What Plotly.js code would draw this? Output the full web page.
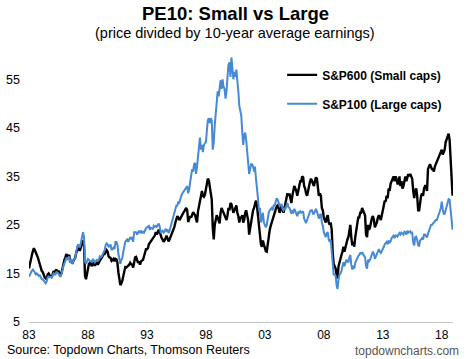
<!DOCTYPE html>
<html>
<head>
<meta charset="utf-8">
<script src="https://cdn.plot.ly/plotly-3.0.1.min.js"></script>
<style>
html,body{margin:0;padding:0;background:#fff;}
#chart{width:470px;height:359px;}
</style>
</head>
<body>
<div id="chart"></div>
<script>
// Monthly values, Jan 1983 .. Dec 2018
const startYear = 1983;
const seriesNames = ["S&P600 (Small caps)", "S&P100 (Large caps)"];
const xTickLabels = ["83","88","93","98","03","08","13","18"];

const smallCaps = [
16.0,17.2,18.0,18.8,19.6,20.2,19.8,19.0,18.8,18.3,17.5,17.0,
16.2,15.5,15.3,14.6,14.2,14.0,13.8,14.8,15.0,14.6,14.5,14.3,
14.8,15.5,15.3,15.6,15.8,15.2,15.6,15.0,14.6,15.0,16.2,17.0,
17.8,18.3,19.0,18.6,18.5,18.8,17.2,17.8,17.0,17.5,18.0,18.2,
19.2,20.0,20.5,19.8,19.8,20.5,21.0,21.8,20.8,14.5,13.8,15.0,
16.5,17.0,17.2,16.8,16.5,17.3,17.0,16.6,17.0,17.2,16.8,17.2,
17.8,18.0,18.2,18.6,19.0,19.0,19.6,19.8,19.5,18.5,18.3,18.2,
17.6,17.8,18.0,17.5,18.0,17.9,17.2,15.2,13.8,12.6,13.0,13.5,
14.5,15.8,16.3,16.2,16.5,16.6,16.8,17.2,16.9,16.8,16.2,17.3,
18.3,18.4,17.6,17.2,17.5,16.8,17.5,17.6,17.8,18.5,19.6,20.0,
20.0,20.2,21.0,21.3,21.5,21.8,22.3,22.5,22.8,23.5,23.0,23.5,
24.0,23.5,22.8,22.3,22.0,21.5,21.8,22.5,22.8,22.2,21.6,22.0,
22.5,23.0,23.5,24.0,24.6,25.5,26.4,26.8,26.5,26.0,26.3,26.8,
27.0,27.5,27.8,28.2,28.5,28.0,25.6,26.2,26.8,26.5,27.3,27.6,
27.3,27.0,26.2,25.5,27.8,29.0,30.5,31.0,32.0,31.0,30.8,31.2,
32.5,33.8,34.5,34.2,32.6,31.5,30.2,24.5,22.0,25.0,26.0,27.0,
26.5,26.0,25.3,27.5,28.5,28.0,27.5,26.8,26.5,26.0,27.0,28.5,
28.0,29.5,29.3,28.2,27.5,28.0,28.8,29.0,27.5,26.8,25.5,26.5,
26.5,27.0,25.5,26.0,27.5,28.0,27.0,26.0,23.0,24.5,25.5,27.0,
28.0,28.5,29.5,30.0,29.0,27.0,24.0,22.5,21.0,20.5,21.8,21.0,
20.0,19.6,19.5,21.5,23.0,24.0,24.8,25.5,25.8,27.0,27.5,28.0,
28.8,29.0,28.5,27.5,28.0,29.0,28.0,27.5,28.5,29.5,30.8,31.5,
31.0,31.5,30.5,29.5,31.0,32.0,33.0,32.5,32.0,31.0,32.5,33.0,
34.0,34.0,35.0,34.8,33.0,32.5,31.5,31.0,32.0,33.5,34.0,34.5,
34.0,33.5,33.0,34.0,34.8,34.5,32.5,31.0,31.5,31.0,28.5,28.0,
26.5,26.0,25.5,26.5,27.0,25.5,25.0,25.5,24.0,19.5,17.0,16.5,
16.0,14.5,14.0,16.5,17.5,18.0,18.8,19.5,20.5,19.5,20.5,21.5,
22.0,22.5,24.0,25.0,22.5,20.8,21.5,20.5,22.5,23.8,25.0,26.5,
26.5,27.5,27.5,28.5,28.0,27.5,27.0,23.0,22.5,25.0,24.0,24.5,
26.0,26.5,26.8,26.0,24.5,25.0,25.5,26.5,27.0,26.5,26.0,27.0,
28.5,29.0,30.0,29.8,31.0,30.5,32.5,32.0,33.5,34.0,34.5,35.0,
34.0,35.0,34.5,33.5,33.5,35.0,33.0,34.0,32.5,33.0,34.0,35.0,
34.0,35.0,35.5,35.0,35.5,35.0,34.5,32.0,30.5,32.0,32.5,31.0,
28.0,28.0,30.0,31.0,31.5,31.0,32.5,33.0,33.0,32.0,36.5,37.0,
37.5,37.0,36.5,36.5,36.0,37.0,37.5,38.0,38.5,39.0,39.5,40.0,
40.5,39.5,40.0,40.5,42.0,42.5,43.0,43.8,42.5,38.0,35.0,31.0
];

const largeCaps = [
14.3,14.8,15.2,15.6,15.8,15.6,15.2,14.8,15.0,14.8,14.5,14.6,
14.3,13.8,13.8,13.5,13.2,13.0,13.3,14.2,14.4,14.2,14.3,14.2,
14.5,15.0,14.8,14.8,15.3,15.2,15.0,14.6,14.3,14.8,15.8,16.5,
17.0,17.6,18.2,17.8,18.2,18.5,17.2,18.0,17.0,17.6,18.0,18.0,
19.5,20.5,21.0,20.5,20.5,21.5,22.5,23.5,22.5,17.5,17.0,17.5,
18.0,17.8,17.5,17.5,17.4,18.0,17.6,17.3,17.6,17.8,17.6,17.8,
18.5,18.3,18.5,19.0,19.6,19.8,20.8,21.2,21.0,20.5,20.6,21.0,
19.8,20.0,20.3,20.0,21.5,21.5,21.0,19.0,17.8,17.0,17.8,18.2,
19.5,21.0,21.5,21.8,22.0,21.5,22.3,22.5,22.0,22.5,21.5,23.5,
23.5,23.5,23.0,23.5,23.8,23.3,23.8,23.4,23.6,23.4,24.0,24.3,
24.5,24.6,24.8,24.0,24.4,24.3,24.2,24.8,24.6,24.8,24.6,25.0,
25.3,24.6,23.5,23.6,23.8,23.4,23.6,24.2,23.8,23.9,23.3,23.8,
24.5,25.5,26.0,26.8,27.5,28.3,29.0,29.0,29.8,29.6,30.6,31.0,
31.5,31.8,32.0,32.3,32.8,33.0,31.5,32.3,33.8,34.8,36.5,36.0,
37.5,37.8,35.5,37.0,39.5,41.0,43.0,40.5,41.5,40.0,41.5,41.8,
42.0,44.5,46.5,47.0,46.0,47.0,46.5,40.5,42.0,45.5,47.5,50.5,
52.5,51.5,53.5,54.8,53.0,55.0,53.5,53.0,51.0,52.5,55.5,58.0,
58.5,55.5,59.5,56.0,55.0,56.5,55.5,57.0,53.5,52.5,49.5,48.5,
47.5,44.0,41.5,43.5,44.0,42.5,40.5,39.0,35.5,36.5,37.5,37.5,
37.0,36.0,37.0,34.5,33.0,30.5,28.0,28.5,25.5,26.5,27.5,25.5,
24.8,24.5,25.0,26.5,27.5,28.0,28.3,28.5,28.0,29.0,29.0,30.0,
30.5,30.2,29.5,29.0,29.0,29.3,28.3,28.0,28.4,28.3,29.0,29.5,
28.6,28.5,28.0,27.3,27.8,27.6,28.3,27.8,27.5,26.8,27.6,27.5,
27.8,27.5,27.6,27.8,26.3,25.8,25.4,26.0,26.8,27.3,27.8,28.0,
28.0,27.3,27.3,27.8,28.3,27.8,27.0,26.3,27.0,27.3,25.5,24.8,
23.5,23.0,22.5,23.3,23.5,22.0,21.5,22.0,20.0,17.0,14.8,14.8,
14.5,12.5,11.8,13.8,14.8,15.0,15.5,16.5,17.3,16.5,17.3,17.8,
17.5,17.3,18.3,18.8,16.8,15.8,16.6,16.0,17.2,17.8,18.0,18.6,
18.8,19.3,19.0,19.4,19.0,18.6,18.3,16.5,16.0,17.8,17.5,17.8,
18.5,19.2,19.5,19.0,18.0,18.5,19.0,19.5,20.0,19.5,19.2,19.6,
20.3,20.5,21.0,21.2,21.5,21.0,21.8,21.3,21.6,22.3,22.5,22.8,
22.3,22.8,22.8,22.6,23.0,23.3,23.0,23.4,23.2,23.0,23.6,23.5,
23.0,23.8,23.4,23.6,23.7,23.3,23.4,21.3,20.8,22.5,22.6,22.0,
20.8,20.7,21.8,22.0,22.3,22.0,23.0,23.0,22.8,22.4,23.2,23.8,
24.3,25.0,25.0,25.3,25.5,25.7,26.0,26.0,26.5,27.2,27.8,28.5,
29.8,28.2,27.3,27.3,28.0,28.5,29.5,30.3,30.2,27.5,26.5,24.0
];

function monthDates(n){
  const out=[];
  for(let i=0;i<n;i++){
    const y=startYear+Math.floor(i/12), m=(i%12)+1;
    out.push(y+"-"+(m<10?"0":"")+m+"-01");
  }
  return out;
}
const dates = monthDates(smallCaps.length);
const tickVals = xTickLabels.map(function(t,i){return (startYear+5*i)+"-01-01";});

const traces = [
  {x:dates, y:smallCaps, type:"scatter", mode:"lines", name:seriesNames[0],
   legendgroup:"a", line:{color:"#000000", width:2.4}},
  {x:dates, y:largeCaps, type:"scatter", mode:"lines", name:seriesNames[1],
   legendgroup:"b", line:{color:"#4689d4", width:2}}
];

const FONT = "Liberation Sans, Arial, sans-serif";
const layout = {
  width:470, height:359,
  margin:{l:29, r:17, t:55, b:37},
  paper_bgcolor:"#fff", plot_bgcolor:"#fff",
  font:{family:FONT, color:"#000", size:12},
  xaxis:{type:"date", range:["1983-01-01","2018-12-15"],
    tickvals:tickVals, ticktext:xTickLabels, ticks:"", showgrid:false, zeroline:false,
    showline:true, linecolor:"#c8c8c8", linewidth:1, tickfont:{size:12},
    ticklabelstandoff:2},
  yaxis:{range:[5,60], tickvals:[5,15,25,35,45,55], ticks:"", showgrid:false,
    zeroline:false, showline:false, tickfont:{size:12.5}, ticklabelstandoff:8},
  showlegend:true,
  legend:{x:0.597, y:0.98, xanchor:"left", yanchor:"top", bgcolor:"rgba(0,0,0,0)",
    traceorder:"grouped", tracegroupgap:10, font:{size:12, weight:"bold"}},
  annotations:[
    {text:"<b>PE10: Small vs Large</b>", xref:"paper", yref:"paper",
     x:0.486, y:1.1536, xanchor:"center", yanchor:"middle", showarrow:false,
     font:{size:18.5, color:"#000"}},
    {text:"(price divided by 10-year average earnings)", xref:"paper", yref:"paper",
     x:0.486, y:1.0824, xanchor:"center", yanchor:"middle", showarrow:false,
     font:{size:14.5, color:"#000"}},
    {text:"Source: Topdown Charts, Thomson Reuters", xref:"paper", yref:"paper",
     x:-0.057, y:-0.103, xanchor:"left", yanchor:"middle", showarrow:false,
     font:{size:12.5, color:"#000"}},
    {text:"topdowncharts.com", xref:"paper", yref:"paper",
     x:1.02, y:-0.107, xanchor:"right", yanchor:"middle", showarrow:false,
     font:{size:12, color:"#555"}}
  ]
};

Plotly.newPlot("chart", traces, layout, {displayModeBar:false, staticPlot:true});
</script>
</body>
</html>
